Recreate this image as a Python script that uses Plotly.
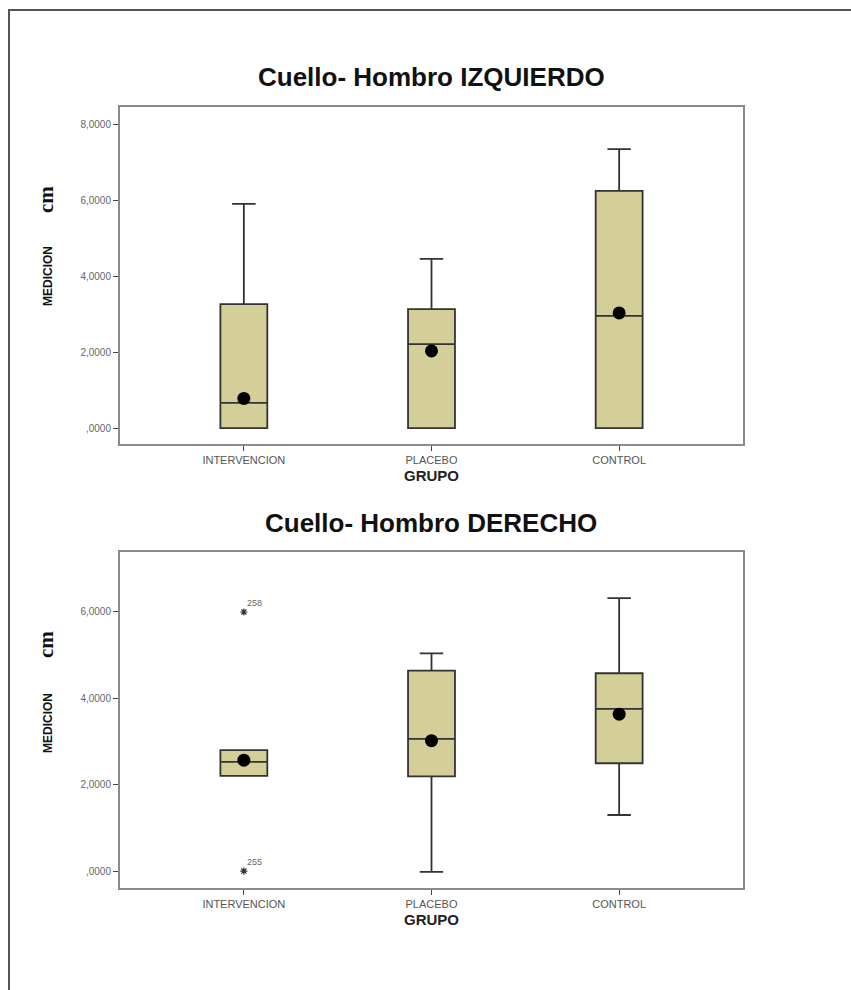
import plotly.graph_objects as go

W, H = 851, 990

categories = ["INTERVENCION", "PLACEBO", "CONTROL"]

# Top chart: Cuello- Hombro IZQUIERDO
izq_lower = [0.0, 0.0, 0.0]
izq_q1 = [0.0, 0.0, 0.0]
izq_median = [0.66, 2.21, 2.95]
izq_q3 = [3.26, 3.13, 6.24]
izq_upper = [5.9, 4.45, 7.34]
izq_mean = [0.78, 2.03, 3.03]

# Bottom chart: Cuello- Hombro DERECHO
der_lower = [2.21, 0.0, 1.31]
der_q1 = [2.21, 2.2, 2.5]
der_median = [2.53, 3.06, 3.75]
der_q3 = [2.8, 4.63, 4.57]
der_upper = [2.8, 5.03, 6.3]
der_mean = [2.57, 3.02, 3.63]
der_out_cat = ["INTERVENCION", "INTERVENCION"]
der_out_val = [5.98, 0.02]
der_out_lab = ["258", "255"]

ytick_vals_top = [0, 2, 4, 6, 8]
ytick_text_top = [",0000", "2,0000", "4,0000", "6,0000", "8,0000"]
ytick_vals_bot = [0, 2, 4, 6]
ytick_text_bot = [",0000", "2,0000", "4,0000", "6,0000"]

FILL = "#D4CF98"
LINE = "#333333"
AX = "#8a8a8a"

def px_x(p):
    return p / W

def px_y(p):
    return 1 - p / H

fig = go.Figure()

def add_panel(xa, ya, lower, q1, med, q3, upper, mean):
    fig.add_trace(go.Box(
        x=categories, q1=q1, median=med, q3=q3,
        lowerfence=lower, upperfence=upper,
        fillcolor=FILL, line=dict(color=LINE, width=1.8),
        width=0.25, whiskerwidth=0.5, boxpoints=False,
        xaxis=xa, yaxis=ya, showlegend=False, hoverinfo="skip"))
    fig.add_trace(go.Scatter(
        x=categories, y=mean, mode="markers",
        marker=dict(color="black", size=13),
        xaxis=xa, yaxis=ya, showlegend=False, hoverinfo="skip"))

add_panel("x", "y", izq_lower, izq_q1, izq_median, izq_q3, izq_upper, izq_mean)
add_panel("x2", "y2", der_lower, der_q1, der_median, der_q3, der_upper, der_mean)

fig.add_trace(go.Scatter(
    x=der_out_cat, y=der_out_val, mode="markers",
    marker=dict(symbol="asterisk-open", size=6, color="#333", line=dict(color="#333", width=1.2)),
    xaxis="x2", yaxis="y2", showlegend=False, hoverinfo="skip"))

annotations = []
for c, v, lab in zip(der_out_cat, der_out_val, der_out_lab):
    annotations.append(dict(
        text=lab, x=c, y=v, xref="x2", yref="y2", showarrow=False,
        xanchor="left", yanchor="bottom", xshift=1, yshift=2,
        font=dict(family="Liberation Sans", size=9, color="#666")))

xdom = [px_x(120), px_x(743)]
common_x = dict(
    domain=xdom, type="category", range=[-0.66, 2.66],
    showline=True, linecolor=AX, linewidth=2, mirror=True,
    ticks="outside", ticklen=5, tickcolor="#444", tickwidth=1,
    tickfont=dict(family="Liberation Sans", size=11, color="#555555"),
    showgrid=False, zeroline=False,
    title=dict(text="<b>GRUPO</b>", font=dict(family="Liberation Sans", size=15, color="#222"), standoff=5),
)
common_y = dict(
    showline=True, linecolor=AX, linewidth=2, mirror=True,
    ticks="outside", ticklen=5, tickcolor="#444", tickwidth=1,
    tickfont=dict(family="Liberation Sans", size=10, color="#666666"),
    showgrid=False, zeroline=False,
)

fig.update_layout(
    width=W, height=H, margin=dict(l=0, r=0, t=0, b=0),
    paper_bgcolor="white", plot_bgcolor="white",
    xaxis=dict(common_x, anchor="y"),
    yaxis=dict(common_y, domain=[px_y(444), px_y(107)], range=[-0.42, 8.45],
               tickvals=ytick_vals_top, ticktext=ytick_text_top, anchor="x"),
    xaxis2=dict(common_x, anchor="y2"),
    yaxis2=dict(common_y, domain=[px_y(888), px_y(552)], range=[-0.37, 7.36],
                tickvals=ytick_vals_bot, ticktext=ytick_text_bot, anchor="x2"),
)

for title, ty, mid_med, mid_cm in [("Cuello- Hombro IZQUIERDO", 77, 276, 200),
                                   ("Cuello- Hombro DERECHO", 523, 723, 645)]:
    annotations.append(dict(
        text="<b>" + title + "</b>", x=px_x(431), y=px_y(ty), xref="paper", yref="paper",
        showarrow=False, xanchor="center", yanchor="middle",
        font=dict(family="Liberation Sans", size=26, color="#111")))
    annotations.append(dict(
        text="<b>MEDICION</b>", x=px_x(48), y=px_y(mid_med), xref="paper", yref="paper",
        showarrow=False, xanchor="center", yanchor="middle", textangle=-90,
        font=dict(family="Liberation Sans Narrow, Liberation Sans", size=12, color="#111")))
    annotations.append(dict(
        text="<b>cm</b>", x=px_x(46), y=px_y(mid_cm), xref="paper", yref="paper",
        showarrow=False, xanchor="center", yanchor="middle", textangle=-90,
        font=dict(family="Liberation Serif", size=21, color="#111")))
fig.update_layout(annotations=annotations)

fig.add_shape(type="rect", xref="paper", yref="paper",
              x0=px_x(9), x1=1.2, y0=-0.2, y1=px_y(10),
              line=dict(color="#555", width=2), fillcolor="rgba(0,0,0,0)", layer="above")

fig.write_html("out.html")
